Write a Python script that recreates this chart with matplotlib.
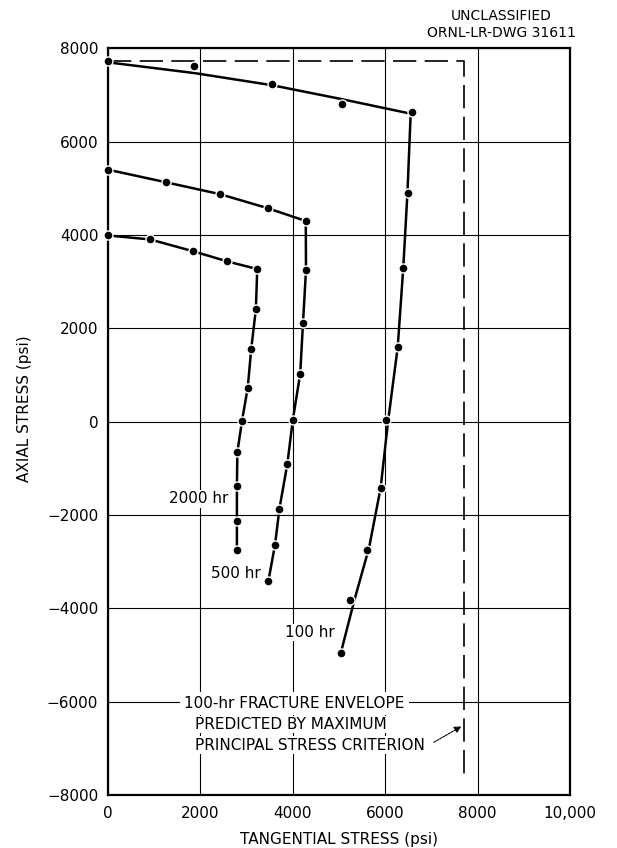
import numpy as np
import matplotlib
matplotlib.use('Agg')
import matplotlib.pyplot as plt

# measured points (tangential, axial) in psi
t_100 = [0, 1870, 3550, 5065, 6570, 6490, 6390, 6285, 6010, 5900, 5610, 5240, 5040]
a_100 = [7720, 7630, 7230, 6810, 6645, 4910, 3290, 1600, 30, -1420, -2740, -3830, -4950]
# drawn fit curve for 100 hr
t_100_fit = [0, 1870, 3550, 5065, 6550, 6480, 6390, 6270, 6060, 5900, 5650, 5330, 5040]
a_100_fit = [7700, 7470, 7210, 6910, 6600, 4900, 3300, 1600, 0, -1420, -2700, -3830, -4950]

t_500 = [0, 1255, 2425, 3455, 4280, 4285, 4220, 4160, 4000, 3880, 3710, 3615, 3470]
a_500 = [5400, 5130, 4875, 4575, 4300, 3255, 2115, 1030, 40, -915, -1865, -2635, -3420]

t_2000 = [0, 910, 1850, 2580, 3230, 3200, 3100, 3025, 2900, 2800, 2790, 2790, 2790]
a_2000 = [3990, 3905, 3650, 3435, 3270, 2405, 1565, 730, 15, -650, -1370, -2120, -2760]

# envelope predicted by max principal stress criterion
env_t = [0, 7700, 7700]
env_a = [7720, 7720, -7700]

xticks = [0, 2000, 4000, 6000, 8000, 10000]
xlabels = ['0', '2000', '4000', '6000', '8000', '10,000']
yticks = [8000, 6000, 4000, 2000, 0, -2000, -4000, -6000, -8000]
ylabels = ['8000', '6000', '4000', '2000', '0', '\u22122000', '\u22124000', '\u22126000', '\u22128000']

fig = plt.figure(figsize=(6.17, 8.48), dpi=100)
ax = fig.add_axes([0.175, 0.0625, 0.749, 0.8805])

ax.set_xlim(0, 10000)
ax.set_ylim(-8000, 8000)
ax.set_xticks(xticks)
ax.set_xticklabels(xlabels)
ax.set_yticks(yticks)
ax.set_yticklabels(ylabels)
ax.tick_params(length=0, labelsize=11)
ax.tick_params(axis='y', pad=7)
ax.tick_params(axis='x', pad=8)
ax.grid(True, color='black', linewidth=0.8)
ax.set_axisbelow(True)
for s in ax.spines.values():
    s.set_linewidth(1.6)

# envelope
ax.plot(env_t, env_a, color='black', linewidth=1.2, dashes=(14, 5), zorder=2)

# curves
ax.plot(t_100_fit, a_100_fit, color='black', linewidth=1.8, zorder=3)
ax.plot(t_500, a_500, color='black', linewidth=1.8, zorder=3)
ax.plot(t_2000, a_2000, color='black', linewidth=1.8, zorder=3)
for t, a in [(t_100, a_100), (t_500, a_500), (t_2000, a_2000)]:
    ax.plot(t, a, 'o', color='black', markersize=6.5, markeredgecolor='white',
            markeredgewidth=1.0, zorder=4, clip_on=False)

wbox = dict(facecolor='white', edgecolor='none', pad=1)
ax.text(2600, -1650, '2000 hr', ha='right', va='center', fontsize=11, bbox=wbox, zorder=3)
ax.text(3300, -3250, '500 hr', ha='right', va='center', fontsize=11, bbox=wbox, zorder=3)
ax.text(4900, -4520, '100 hr', ha='right', va='center', fontsize=11, bbox=wbox, zorder=3)

ax.text(1650, -6040, '100-hr FRACTURE ENVELOPE', ha='left', va='center', fontsize=11,
        bbox=dict(facecolor='white', edgecolor='none', pad=3), zorder=3)
ax.text(1880, -6490, 'PREDICTED BY MAXIMUM', ha='left', va='center', fontsize=11,
        bbox=wbox, zorder=3)
ax.text(1880, -6930, 'PRINCIPAL STRESS CRITERION', ha='left', va='center', fontsize=11,
        bbox=wbox, zorder=3)
ax.annotate('', xy=(7700, -6500), xytext=(7000, -6900),
            arrowprops=dict(arrowstyle='-|>', color='black', linewidth=0.8,
                            linestyle=(0, (2, 1)), mutation_scale=10), zorder=4)

ax.set_xlabel('TANGENTIAL STRESS (psi)', fontsize=11, labelpad=8)
ax.set_ylabel('AXIAL STRESS (psi)', fontsize=11)
ax.yaxis.set_label_coords(-0.165, 0.518)

fig.text(0.812, 0.981, 'UNCLASSIFIED', ha='center', va='center', fontsize=10)
fig.text(0.812, 0.961, 'ORNL-LR-DWG 31611', ha='center', va='center', fontsize=10)

fig.savefig('out.png', dpi=100)
